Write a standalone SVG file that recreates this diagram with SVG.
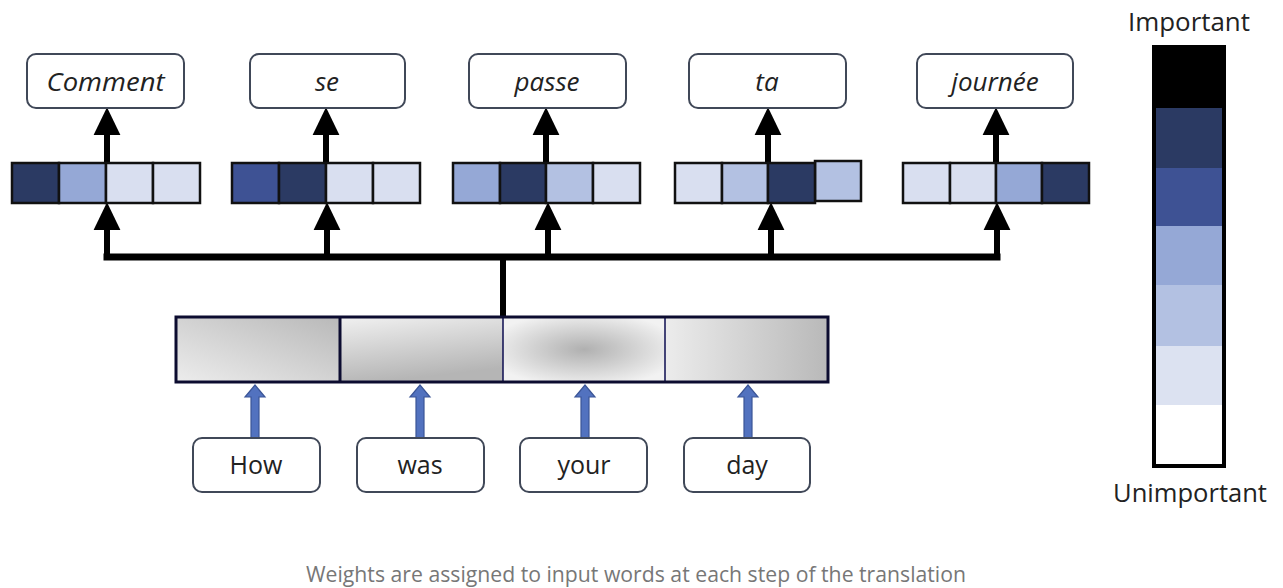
<svg xmlns="http://www.w3.org/2000/svg" width="1283" height="588" viewBox="0 0 1283 588">
<style>
.out{fill:#fff;stroke:#404858;stroke-width:2}
.otxt{font-family:"Open Sans","Noto Sans",sans-serif;font-style:italic;font-size:26px;fill:#222;text-anchor:middle}
.itxt{font-family:"Open Sans","Noto Sans",sans-serif;font-size:25px;fill:#222;text-anchor:middle}
.cell{stroke:#111;stroke-width:2.5}
.d{fill:#2b3a63}.md{fill:#3e5294}.m{fill:#95a8d6}.lm{fill:#b3c1e2}.l{fill:#d9dff0}
.blk{stroke:#000;stroke-width:6;fill:none}
.blue{fill:#5272bf;stroke:#3b5597;stroke-width:1.2}
.leg{font-family:"Open Sans","Noto Sans",sans-serif;font-size:25px;fill:#222;text-anchor:middle}
.cap{font-family:"Open Sans","Noto Sans",sans-serif;font-size:21px;fill:#777;text-anchor:middle}
</style>
<defs>
<marker id="ah" markerUnits="userSpaceOnUse" markerWidth="28" markerHeight="28" viewBox="0 0 27 26" refX="5" refY="13" orient="auto">
<path d="M0,0 L27,13 L0,26 z" fill="#000"/>
</marker>
<linearGradient id="g1" x1="0" y1="1" x2="1" y2="0"><stop offset="0" stop-color="#ececec"/><stop offset="1" stop-color="#b9b9b9"/></linearGradient>
<linearGradient id="g2" x1="0" y1="0" x2="0.3" y2="1"><stop offset="0" stop-color="#f0f0f0"/><stop offset="1" stop-color="#b5b5b5"/></linearGradient>
<radialGradient id="g3" cx="0.5" cy="0.5" r="0.6"><stop offset="0" stop-color="#b0b0b0"/><stop offset="1" stop-color="#f2f2f2"/></radialGradient>
<linearGradient id="g4" x1="0" y1="0" x2="1" y2="0"><stop offset="0" stop-color="#ececec"/><stop offset="1" stop-color="#b9b9b9"/></linearGradient>
</defs>
<rect width="1283" height="588" fill="#fff"/>

<g id="connectors">
<line x1="107" y1="257" x2="997" y2="257" stroke="#000" stroke-width="7" stroke-linecap="square"/>
<path class="blk" d="M503,257 V317"/>
<path class="blk" d="M107,257 V225" marker-end="url(#ah)"/>
<path class="blk" d="M327,257 V225" marker-end="url(#ah)"/>
<path class="blk" d="M548,257 V225" marker-end="url(#ah)"/>
<path class="blk" d="M771,257 V225" marker-end="url(#ah)"/>
<path class="blk" d="M997,257 V225" marker-end="url(#ah)"/>
<path class="blk" d="M107,163 V130" marker-end="url(#ah)"/>
<path class="blk" d="M326,163 V130" marker-end="url(#ah)"/>
<path class="blk" d="M546,163 V130" marker-end="url(#ah)"/>
<path class="blk" d="M768,163 V130" marker-end="url(#ah)"/>
<path class="blk" d="M996,163 V130" marker-end="url(#ah)"/>
<polygon class="blue" points="251,440 251,397 245,397 255,385 265,397 259,397 259,440"/>
<polygon class="blue" points="416,440 416,397 410,397 420,385 430,397 424,397 424,440"/>
<polygon class="blue" points="581,440 581,397 575,397 585,385 595,397 589,397 589,440"/>
<polygon class="blue" points="744,440 744,397 738,397 748,385 758,397 752,397 752,440"/>
</g>

<g id="out-comment"><rect class="out" x="27" y="54" width="157" height="54" rx="9"/><text class="otxt" x="105.5" y="91" textLength="118" lengthAdjust="spacingAndGlyphs">Comment</text></g>
<g id="out-se"><rect class="out" x="250" y="54" width="155" height="54" rx="9"/><text class="otxt" x="327" y="91">se</text></g>
<g id="out-passe"><rect class="out" x="469" y="54" width="157" height="54" rx="9"/><text class="otxt" x="547" y="91">passe</text></g>
<g id="out-ta"><rect class="out" x="689" y="54" width="157" height="54" rx="9"/><text class="otxt" x="767" y="91">ta</text></g>
<g id="out-journee"><rect class="out" x="917" y="54" width="156" height="54" rx="9"/><text class="otxt" x="995" y="91">journée</text></g>

<g id="w-comment">
<rect class="cell d" x="12" y="163" width="47" height="40"/><rect class="cell m" x="59" y="163" width="47" height="40"/><rect class="cell l" x="106" y="163" width="47" height="40"/><rect class="cell l" x="153" y="163" width="47" height="40"/>
</g>
<g id="w-se">
<rect class="cell md" x="232" y="163" width="47" height="40"/><rect class="cell d" x="279" y="163" width="47" height="40"/><rect class="cell l" x="326" y="163" width="47" height="40"/><rect class="cell l" x="373" y="163" width="47" height="40"/>
</g>
<g id="w-passe">
<rect class="cell m" x="453" y="163" width="47" height="40"/><rect class="cell d" x="500" y="163" width="46" height="40"/><rect class="cell lm" x="546" y="163" width="47" height="40"/><rect class="cell l" x="593" y="163" width="47" height="40"/>
</g>
<g id="w-ta">
<rect class="cell l" x="675" y="163" width="47" height="40"/><rect class="cell lm" x="722" y="163" width="46" height="40"/><rect class="cell lm" x="815" y="161" width="46" height="40"/><rect class="cell d" x="768" y="163" width="47" height="40"/>
</g>
<g id="w-journee">
<rect class="cell l" x="903" y="163" width="47" height="40"/><rect class="cell l" x="950" y="163" width="46" height="40"/><rect class="cell m" x="996" y="163" width="46" height="40"/><rect class="cell d" x="1042" y="163" width="47" height="40"/>
</g>

<g id="encoder">
<rect x="177" y="318" width="163" height="63" fill="url(#g1)"/>
<rect x="340" y="318" width="163" height="63" fill="url(#g2)"/>
<rect x="503" y="318" width="162" height="63" fill="url(#g3)"/>
<rect x="665" y="318" width="162" height="63" fill="url(#g4)"/>
<line x1="340" y1="318" x2="340" y2="381" stroke="#0c0c30" stroke-width="3"/>
<line x1="503" y1="318" x2="503" y2="381" stroke="#0c0c50" stroke-width="1.5"/>
<line x1="665" y1="318" x2="665" y2="381" stroke="#0c0c50" stroke-width="1.5"/>
<rect x="176" y="317" width="652" height="65" fill="none" stroke="#0c0c30" stroke-width="3"/>
</g>

<g id="in-how"><rect class="out" x="193" y="438" width="127" height="54" rx="9"/><text class="itxt" x="256" y="474">How</text></g>
<g id="in-was"><rect class="out" x="357" y="438" width="127" height="54" rx="9"/><text class="itxt" x="420" y="474">was</text></g>
<g id="in-your"><rect class="out" x="520" y="438" width="127" height="54" rx="9"/><text class="itxt" x="584" y="474">your</text></g>
<g id="in-day"><rect class="out" x="684" y="438" width="126" height="54" rx="9"/><text class="itxt" x="747" y="474">day</text></g>

<g id="legend">
<text class="leg" x="1189" y="31" textLength="122" lengthAdjust="spacingAndGlyphs">Important</text>
<rect x="1156" y="108" width="66" height="60" fill="#2b3a63"/>
<rect x="1156" y="168" width="66" height="58" fill="#3e5294"/>
<rect x="1156" y="226" width="66" height="59" fill="#95a8d6"/>
<rect x="1156" y="285" width="66" height="61" fill="#b3c1e2"/>
<rect x="1156" y="346" width="66" height="59" fill="#dce2f1"/>
<rect x="1156" y="405" width="66" height="59" fill="#fff"/>
<rect x="1153" y="46" width="72" height="62" fill="#000"/>
<rect x="1154" y="47" width="70" height="419" fill="none" stroke="#000" stroke-width="4"/>
<text class="leg" x="1190" y="502" textLength="154" lengthAdjust="spacingAndGlyphs">Unimportant</text>
</g>

<text class="cap" x="636" y="582" textLength="660" lengthAdjust="spacingAndGlyphs">Weights are assigned to input words at each step of the translation</text>
</svg>
